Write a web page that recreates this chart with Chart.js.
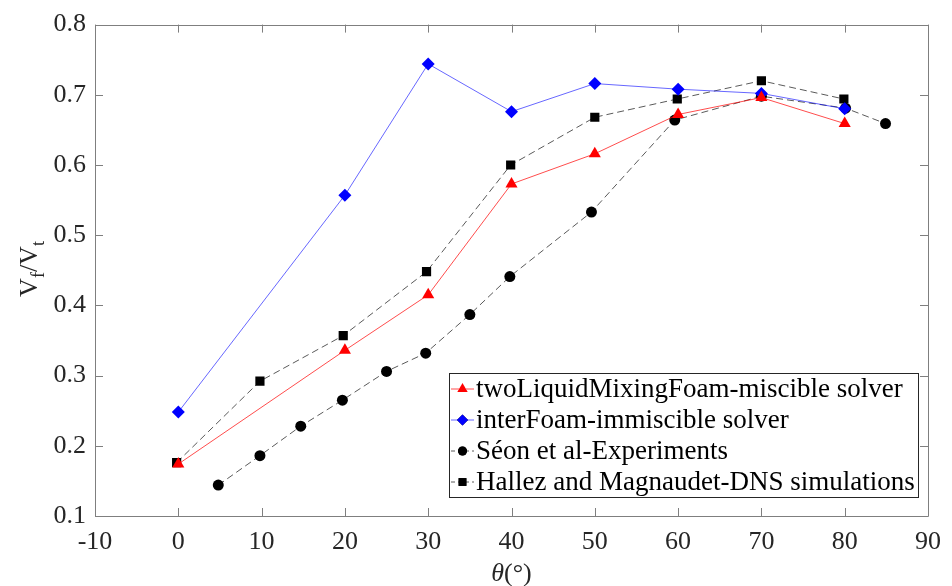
<!DOCTYPE html>
<html>
<head>
<meta charset="utf-8">
<script src="https://cdn.jsdelivr.net/npm/chart.js@4.4.1/dist/chart.umd.min.js"></script>
<style>
  html, body { margin: 0; padding: 0; background: #fff; }
  #wrap { width: 952px; height: 586px; position: relative; }
</style>
</head>
<body>
<div id="wrap"><canvas id="chart"></canvas></div>
<script>
// values
var xTicks = [-10, 0, 10, 20, 30, 40, 50, 60, 70, 80, 90];
var yTicks = [0.1, 0.2, 0.3, 0.4, 0.5, 0.6, 0.7, 0.8];

var miscibleX = [0, 20, 30, 40, 50, 60, 70, 80];
var miscibleY = [0.174, 0.336, 0.415, 0.573, 0.616, 0.672, 0.696, 0.659];

var immiscibleX = [0, 20, 30, 40, 50, 60, 70, 80];
var immiscibleY = [0.248, 0.557, 0.744, 0.676, 0.716, 0.708, 0.702, 0.680];

var seonX = [4.8, 9.8, 14.7, 19.7, 25, 29.7, 35, 39.8, 49.6, 59.6, 70, 80.1, 84.9];
var seonY = [0.144, 0.186, 0.228, 0.265, 0.306, 0.332, 0.387, 0.441, 0.533, 0.664, 0.698, 0.681, 0.659];

var hallezX = [-0.2, 9.8, 19.8, 29.8, 39.9, 50, 59.9, 70, 79.9];
var hallezY = [0.176, 0.292, 0.357, 0.448, 0.600, 0.668, 0.694, 0.720, 0.694];

var seriesNames = [
  "twoLiquidMixingFoam-miscible solver",
  "interFoam-immiscible solver",
  "S\u00e9on et al-Experiments",
  "Hallez and Magnaudet-DNS simulations"
];

var serif = "'Liberation Serif', 'Times New Roman', serif";

function toPoints(xs, ys) {
  return xs.map(function(x, i) { return { x: x, y: ys[i] }; });
}

// draws the box, inward ticks, axis titles and the legend
var framePlugin = {
  id: "frame",
  afterDraw: function(chart) {
    var ctx = chart.ctx;
    var a = chart.chartArea;
    var xs = chart.scales.x;
    var ys = chart.scales.y;
    var tick = 8;

    ctx.save();
    ctx.strokeStyle = "#7f7f7f";
    ctx.lineWidth = 1;
    ctx.beginPath();
    ctx.rect(Math.round(a.left) + 0.5, Math.round(a.top) + 0.5,
      Math.round(a.right - a.left), Math.round(a.bottom - a.top));
    xTicks.forEach(function(v) {
      var px = Math.round(xs.getPixelForValue(v)) + 0.5;
      ctx.moveTo(px, a.bottom); ctx.lineTo(px, a.bottom - tick);
      ctx.moveTo(px, a.top); ctx.lineTo(px, a.top + tick);
    });
    yTicks.forEach(function(v) {
      var py = Math.round(ys.getPixelForValue(v)) + 0.5;
      ctx.moveTo(a.left, py); ctx.lineTo(a.left + tick, py);
      ctx.moveTo(a.right, py); ctx.lineTo(a.right - tick, py);
    });
    ctx.stroke();

    // x title
    ctx.fillStyle = "#262626";
    ctx.textBaseline = "alphabetic";
    ctx.textAlign = "left";
    var cx = (a.left + a.right) / 2;
    ctx.font = "italic 26px " + serif;
    var wTheta = ctx.measureText("\u03b8").width;
    ctx.font = "26px " + serif;
    var wRest = ctx.measureText("(\u00b0)").width;
    var sx = cx - (wTheta + wRest) / 2;
    ctx.font = "italic 26px " + serif;
    ctx.fillText("\u03b8", sx, 581);
    ctx.font = "26px " + serif;
    ctx.fillText("(\u00b0)", sx + wTheta, 581);

    // y title V_f/V_t
    ctx.save();
    ctx.translate(37, 269);
    ctx.rotate(-Math.PI / 2);
    var parts = [["V", 26, 0], ["f", 18, 7], ["/V", 26, 0], ["t", 18, 7]];
    var total = 0;
    parts.forEach(function(p) { ctx.font = p[1] + "px " + serif; total += ctx.measureText(p[0]).width; });
    var px0 = -total / 2;
    parts.forEach(function(p) {
      ctx.font = p[1] + "px " + serif;
      ctx.fillText(p[0], px0, p[2]);
      px0 += ctx.measureText(p[0]).width;
    });
    ctx.restore();

    // legend
    var lx = 449.5, ly = 373.5, lw = 469, lh = 124;
    ctx.fillStyle = "#fff";
    ctx.fillRect(lx, ly, lw, lh);
    ctx.strokeStyle = "#262626";
    ctx.setLineDash([]);
    ctx.strokeRect(lx, ly, lw, lh);
    ctx.font = "27px " + serif;
    ctx.textBaseline = "middle";
    chart.data.datasets.forEach(function(ds, i) {
      var y = 389 + i * 31;
      ctx.save();
      ctx.strokeStyle = ds.borderColor;
      ctx.lineWidth = ds.borderWidth;
      ctx.setLineDash(ds.borderDash ? [4, 3] : []);
      ctx.beginPath();
      ctx.moveTo(451, y); ctx.lineTo(474, y);
      ctx.stroke();
      ctx.restore();
      Chart.helpers.drawPoint(ctx, {
        pointStyle: ds.pointStyle, radius: ds.pointRadius - 1, rotation: 0, borderWidth: 0
      }, 462.5, y);
      ctx.fillStyle = ds.pointBackgroundColor;
      ctx.fill();
      ctx.fillStyle = "#000";
      ctx.fillText(ds.label, 476, y + 1);
    });
    ctx.restore();
  }
};

var chartCtx = document.getElementById("chart").getContext("2d");
var chart = new Chart(chartCtx, {
  type: "line",
  data: {
    datasets: [
      {
        label: seriesNames[0],
        data: toPoints(miscibleX, miscibleY),
        borderColor: "rgba(255,0,0,0.7)",
        borderWidth: 1,
        pointStyle: "triangle",
        pointRadius: 7,
        pointBackgroundColor: "#ff0000",
        pointBorderWidth: 0
      },
      {
        label: seriesNames[1],
        data: toPoints(immiscibleX, immiscibleY),
        borderColor: "rgba(0,0,255,0.6)",
        borderWidth: 1,
        pointStyle: "rectRot",
        pointRadius: 6.5,
        pointBackgroundColor: "#0000ff",
        pointBorderWidth: 0
      },
      {
        label: seriesNames[2],
        data: toPoints(seonX, seonY),
        borderColor: "#5a5a5a",
        borderWidth: 1,
        borderDash: [7, 4],
        pointStyle: "circle",
        pointRadius: 5.5,
        pointBackgroundColor: "#000",
        pointBorderWidth: 0
      },
      {
        label: seriesNames[3],
        data: toPoints(hallezX, hallezY),
        borderColor: "#5a5a5a",
        borderWidth: 1,
        borderDash: [7, 4],
        pointStyle: "rect",
        pointRadius: 6.5,
        pointBackgroundColor: "#000",
        pointBorderWidth: 0
      }
    ]
  },
  options: {
    responsive: true,
    maintainAspectRatio: false,
    animation: false,
    layout: { padding: { left: 0, right: 17, top: 23, bottom: 0 } },
    plugins: {
      legend: { display: false },
      tooltip: { enabled: false }
    },
    scales: {
      x: {
        type: "linear",
        min: -10,
        max: 90,
        afterFit: function(scale) { scale.height = 70; },
        afterBuildTicks: function(scale) {
          scale.ticks = xTicks.map(function(v) { return { value: v }; });
        },
        grid: { display: false, drawTicks: false },
        border: { display: false },
        ticks: {
          padding: 11,
          color: "#262626",
          font: { family: serif, size: 26 },
          maxRotation: 0,
          callback: function(v) { return String(v); }
        }
      },
      y: {
        type: "linear",
        min: 0.1,
        max: 0.8,
        afterFit: function(scale) { scale.width = 95; },
        afterBuildTicks: function(scale) {
          scale.ticks = yTicks.map(function(v) { return { value: v }; });
        },
        grid: { display: false, drawTicks: false },
        border: { display: false },
        ticks: {
          padding: 9,
          color: "#262626",
          font: { family: serif, size: 26 },
          callback: function(v) { return v.toFixed(1); }
        }
      }
    }
  },
  plugins: [framePlugin]
});
</script>
</body>
</html>
